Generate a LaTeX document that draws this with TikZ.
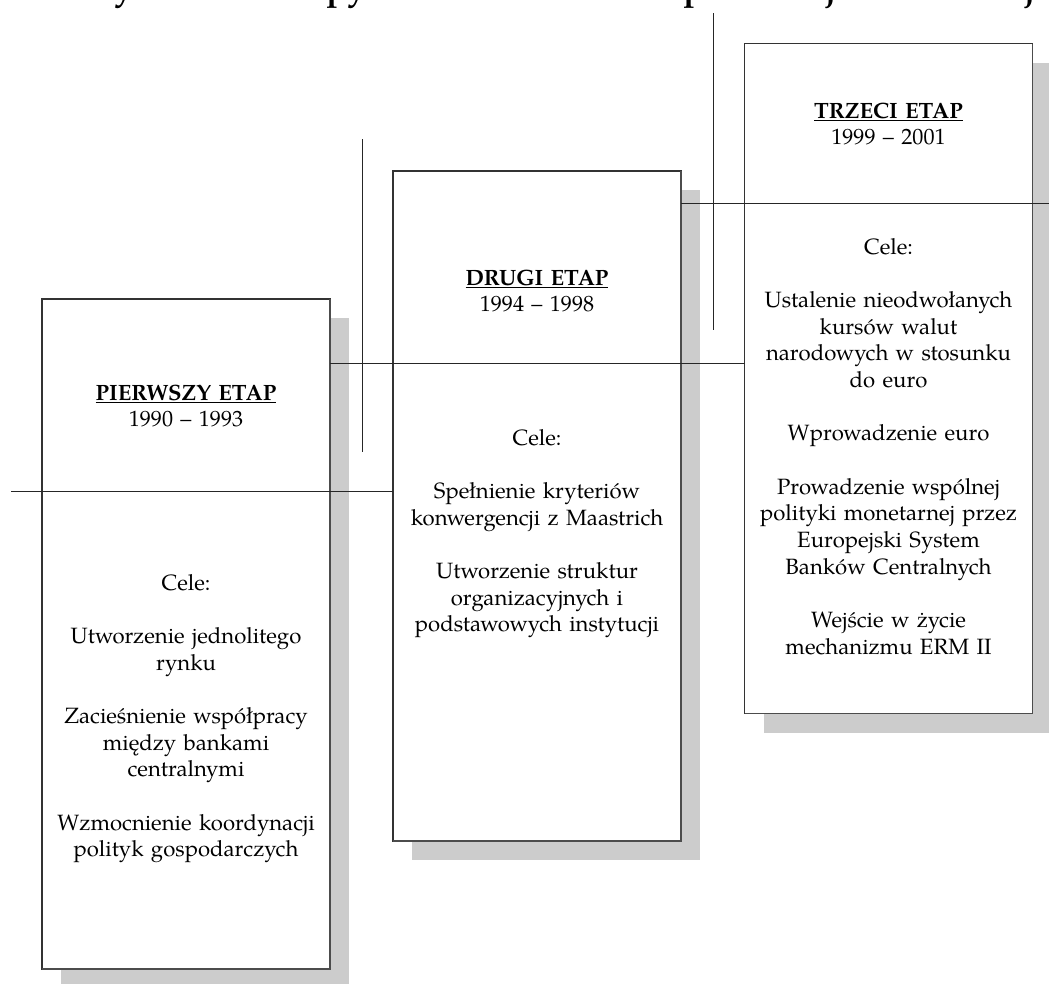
\documentclass[tikz,border=0pt]{standalone}
\usepackage{fontspec}
\setmainfont{TeX Gyre Pagella}
\usetikzlibrary{shadows}

\begin{document}
\begin{tikzpicture}[x=0.75pt, y=-0.75pt,
  every node/.style={inner sep=0pt, outer sep=0pt},
  stagebox/.style={draw=black!80, line width=0.8pt, fill=white,
    minimum width=216pt, minimum height=502.5pt,
    drop shadow={shadow xshift=14.25pt, shadow yshift=-14.25pt,
      fill=black!20, opacity=1}},
  boxedge/.style={draw=black!70, line width=1.2pt},
  rule/.style={line width=0.75pt, draw=black!85},
  body/.style={text width=210pt, align=center, anchor=base,
    font=\fontsize{16.6pt}{20pt}\selectfont},
  captionstyle/.style={anchor=south west,
    font=\bfseries\fontsize{26pt}{30pt}\selectfont},
]
\useasboundingbox (0,0) rectangle (1049,983);
\clip (0,0) rectangle (1049,983);

% caption above the figure (only the bottom of its letters lies on the page)
\node[captionstyle] (cap) at (90,9) {Rysunek 1. Etapy tworzenia Unii Gospodarczej i Walutowej};

% the three stages
\node[stagebox] (p1) at (186,634) {};
\node[stagebox] (p2) at (537,506) {};
\node[stagebox] (p3) at (888.5,378.5) {};
\foreach \b in {p1,p2,p3}
  \draw[boxedge] (\b.north east) -- (\b.south east) -- (\b.south west);

% dividing rules running through the boxes
\coordinate (a1) at (11,491);
\coordinate (a2) at (a1 -| p2.west);
\draw[rule] (a1) -- (a2);

\coordinate (b1) at (p1.east |- 0,363);
\coordinate (b2) at (p3.west |- 0,363);
\draw[rule] (b1) -- (b2);

\coordinate (c1) at (p2.east |- 0,203);
\coordinate (c2) at (1049,203);
\draw[rule] (c1) -- (c2);

% vertical markers between the stages
\coordinate (v1t) at (362,139);
\coordinate (v1b) at (362,452);
\draw[rule] (v1t) -- (v1b);
\coordinate (v2t) at (713,13);
\coordinate (v2b) at (713,330);
\draw[rule] (v2t) -- (v2b);

% stage one
\node[body] (t1) at (186,400) {\textbf{\underline{PIERWSZY ETAP}}\\1990 – 1993};
\node[body] (g1) at (186,590) {Cele:\\[20pt]Utworzenie jednolitego\\rynku\\[20pt]Zacieśnienie współpracy\\między bankami\\centralnymi\\[20pt]Wzmocnienie koordynacji\\polityk gospodarczych};

% stage two
\node[body] (t2) at (537,285) {\textbf{\underline{DRUGI ETAP}}\\1994 – 1998};
\node[body] (g2) at (537,445) {Cele:\\[20pt]Spełnienie kryteriów\\konwergencji z Maastrich\\[20pt]Utworzenie struktur\\organizacyjnych i\\podstawowych instytucji};

% stage three
\node[body] (t3) at (888.5,118) {\textbf{\underline{TRZECI ETAP}}\\1999 – 2001};
\node[body] (g3) at (888.5,254) {Cele:\\[20pt]Ustalenie nieodwołanych\\kursów walut\\narodowych w stosunku\\do euro\\[20pt]Wprowadzenie euro\\[20pt]Prowadzenie wspólnej\\polityki monetarnej przez\\Europejski System\\Banków Centralnych\\[20pt]Wejście w życie\\mechanizmu ERM II};
\end{tikzpicture}
\end{document}
